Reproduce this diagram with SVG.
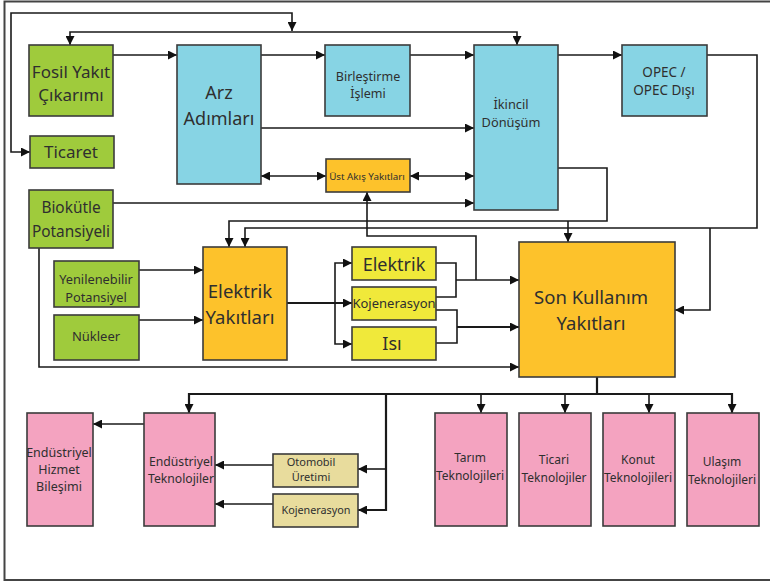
<svg xmlns="http://www.w3.org/2000/svg" width="770" height="585" viewBox="0 0 770 585">
  <style>
    .box { stroke: #3b3b3b; stroke-width: 1.6; }
    .green { fill: #9fcb3c; }
    .blue { fill: #87d4e4; }
    .orange { fill: #fdc22b; }
    .yellow { fill: #f0e93a; }
    .pink { fill: #f4a3c0; }
    .khaki { fill: #e8dc9d; }
    text { font-family: "Noto Sans", "Open Sans", "Liberation Sans", sans-serif; fill: #2f2f2f; text-anchor: middle; }
    .conn path { fill: none; stroke: #1a1a1a; stroke-width: 1.6; }
    .conn path.thick { stroke-width: 2.2; }
  </style>
  <defs>
    <marker id="ah" viewBox="0 0 10 10" refX="10" refY="5" markerWidth="9" markerHeight="9" markerUnits="userSpaceOnUse" orient="auto-start-reverse">
      <path d="M0,0 L10,5 L0,10 z" fill="#111"/>
    </marker>
  </defs>

  <rect width="770" height="585" fill="#ffffff"/>
  <!-- frame -->
  <path d="M770,1.5 H4.5 V580 H770" fill="none" stroke="#444" stroke-width="2"/>

  <!-- connectors -->
  <g id="connectors" class="conn">
    <path d="M292,31 V13 H11 V152 H30" marker-start="url(#ah)" marker-end="url(#ah)"/>
    <path d="M70,45 V32 H517 V45" marker-start="url(#ah)" marker-end="url(#ah)"/>
    <path d="M113,55 H177" marker-end="url(#ah)"/>
    <path d="M261,55 H325" marker-end="url(#ah)"/>
    <path d="M410,55 H474" marker-end="url(#ah)"/>
    <path d="M558,55 H622" marker-end="url(#ah)"/>
    <path d="M707,55 H757 V228 H245 V247" marker-end="url(#ah)"/>
    <path d="M710,228 V310 H675" marker-end="url(#ah)"/>
    <path d="M558,168 H607 V221 H229 V247" marker-end="url(#ah)"/>
    <path d="M568,221 V242" marker-end="url(#ah)"/>
    <path d="M261,128 H474" marker-end="url(#ah)"/>
    <path d="M261,176 H326" marker-start="url(#ah)" marker-end="url(#ah)"/>
    <path d="M410,176 H474" marker-start="url(#ah)" marker-end="url(#ah)"/>
    <path d="M113,203 H474" marker-end="url(#ah)"/>
    <path d="M39,248 V367 H519" marker-end="url(#ah)"/>
    <path d="M139,270 H203" marker-end="url(#ah)"/>
    <path d="M139,320 H203" marker-end="url(#ah)"/>
    <path class="thick" d="M287,303 H352" marker-end="url(#ah)"/>
    <path d="M352,263 H335 V344 H352" marker-start="url(#ah)" marker-end="url(#ah)"/>
    <path d="M436,263 H456 V297 H436"/>
    <path d="M456,280 H519" marker-end="url(#ah)"/>
    <path d="M476,280 V236 H367 V192" marker-end="url(#ah)"/>
    <path d="M436,310 H457 V343 H436"/>
    <path class="thick" d="M457,327 H519" marker-end="url(#ah)"/>
    <path class="thick" d="M597,377 V394"/>
    <path class="thick" d="M189,413 V394 H732 V413" marker-start="url(#ah)" marker-end="url(#ah)"/>
    <path d="M481,394 V413" marker-end="url(#ah)"/>
    <path d="M565,394 V413" marker-end="url(#ah)"/>
    <path d="M649,394 V413" marker-end="url(#ah)"/>
    <path class="thick" d="M386,394 V510 H358" marker-end="url(#ah)"/>
    <path d="M386,469 H358" marker-end="url(#ah)"/>
    <path d="M273,465 H215" marker-end="url(#ah)"/>
    <path d="M273,504 H215" marker-end="url(#ah)"/>
    <path d="M144,424 H93" marker-end="url(#ah)"/>
  </g>

  <!-- supply side -->
  <g id="fosil">
    <rect class="box green" x="29" y="45" width="84" height="71"/>
    <text x="71" y="78" font-size="17">Fosil Yakıt</text>
    <text x="71" y="101" font-size="17">Çıkarımı</text>
  </g>
  <g id="ticaret">
    <rect class="box green" x="30" y="136" width="84" height="32"/>
    <text x="71" y="158" font-size="17">Ticaret</text>
  </g>
  <g id="arz">
    <rect class="box blue" x="177" y="45" width="84" height="139"/>
    <text x="219" y="99" font-size="18">Arz</text>
    <text x="219" y="125" font-size="18">Adımları</text>
  </g>
  <g id="birlestirme">
    <rect class="box blue" x="325" y="45" width="85" height="71"/>
    <text x="368" y="81" font-size="12.5">Birleştirme</text>
    <text x="368" y="98" font-size="12.5">İşlemi</text>
  </g>
  <g id="ust-akis">
    <rect class="box orange" x="326" y="159" width="84" height="33"/>
    <text x="367" y="180" font-size="9.8">Üst Akış Yakıtları</text>
  </g>
  <g id="ikincil">
    <rect class="box blue" x="474" y="45" width="84" height="165"/>
    <text x="511" y="109" font-size="12.8">İkincil</text>
    <text x="511" y="127" font-size="12.8">Dönüşüm</text>
  </g>
  <g id="opec">
    <rect class="box blue" x="622" y="45" width="85" height="71"/>
    <text x="664" y="77" font-size="13.5">OPEC /</text>
    <text x="664" y="95" font-size="13.5">OPEC Dışı</text>
  </g>
  <g id="biokutle">
    <rect class="box green" x="29" y="190" width="84" height="58"/>
    <text x="71" y="213" font-size="15.4">Biokütle</text>
    <text x="71" y="237" font-size="15.4">Potansiyeli</text>
  </g>
  <g id="yenilenebilir">
    <rect class="box green" x="54" y="261" width="85" height="46"/>
    <text x="96" y="284" font-size="12.8">Yenilenebilir</text>
    <text x="96" y="302" font-size="12.8">Potansiyel</text>
  </g>
  <g id="nukleer">
    <rect class="box green" x="54" y="315" width="85" height="45"/>
    <text x="96" y="341" font-size="13">Nükleer</text>
  </g>
  <g id="elektrik-yakitlari">
    <rect class="box orange" x="203" y="247" width="84" height="113"/>
    <text x="240" y="298" font-size="18.5">Elektrik</text>
    <text x="240" y="324" font-size="18.5">Yakıtları</text>
  </g>
  <g id="elektrik">
    <rect class="box yellow" x="352" y="247" width="84" height="33"/>
    <text x="394" y="271" font-size="18">Elektrik</text>
  </g>
  <g id="kojenerasyon">
    <rect class="box yellow" x="352" y="287" width="84" height="33"/>
    <text x="394" y="308" font-size="13">Kojenerasyon</text>
  </g>
  <g id="isi">
    <rect class="box yellow" x="352" y="327" width="84" height="33"/>
    <text x="392" y="350" font-size="18">Isı</text>
  </g>
  <g id="son-kullanim">
    <rect class="box orange" x="519" y="242" width="156" height="135"/>
    <text x="591" y="304" font-size="18.5">Son Kullanım</text>
    <text x="591" y="330" font-size="18.5">Yakıtları</text>
  </g>

  <!-- demand side -->
  <g id="endustriyel-hizmet">
    <rect class="box pink" x="27" y="413" width="66" height="113"/>
    <text x="59" y="457" font-size="12.5">Endüstriyel</text>
    <text x="59" y="474" font-size="12.5">Hizmet</text>
    <text x="59" y="491" font-size="12.5">Bileşimi</text>
  </g>
  <g id="endustriyel-tek">
    <rect class="box pink" x="144" y="413" width="71" height="113"/>
    <text x="181" y="466" font-size="12.2">Endüstriyel</text>
    <text x="181" y="483" font-size="12.2">Teknolojiler</text>
  </g>
  <g id="otomobil">
    <rect class="box khaki" x="273" y="454" width="85" height="33"/>
    <text x="311" y="466" font-size="11">Otomobil</text>
    <text x="311" y="481" font-size="11">Üretimi</text>
  </g>
  <g id="kojenerasyon-2">
    <rect class="box khaki" x="273" y="494" width="85" height="33"/>
    <text x="316" y="514" font-size="10.8">Kojenerasyon</text>
  </g>
  <g id="tarim">
    <rect class="box pink" x="435" y="413" width="72" height="113"/>
    <text x="470" y="462" font-size="12">Tarım</text>
    <text x="470" y="480" font-size="12">Teknolojileri</text>
  </g>
  <g id="ticari">
    <rect class="box pink" x="519" y="413" width="72" height="113"/>
    <text x="554" y="464" font-size="12">Ticari</text>
    <text x="554" y="482" font-size="12">Teknolojiler</text>
  </g>
  <g id="konut">
    <rect class="box pink" x="603" y="413" width="72" height="113"/>
    <text x="638" y="464" font-size="12">Konut</text>
    <text x="638" y="482" font-size="12">Teknolojileri</text>
  </g>
  <g id="ulasim">
    <rect class="box pink" x="687" y="413" width="72" height="113"/>
    <text x="722" y="466" font-size="12">Ulaşım</text>
    <text x="722" y="484" font-size="12">Teknolojileri</text>
  </g>
</svg>
